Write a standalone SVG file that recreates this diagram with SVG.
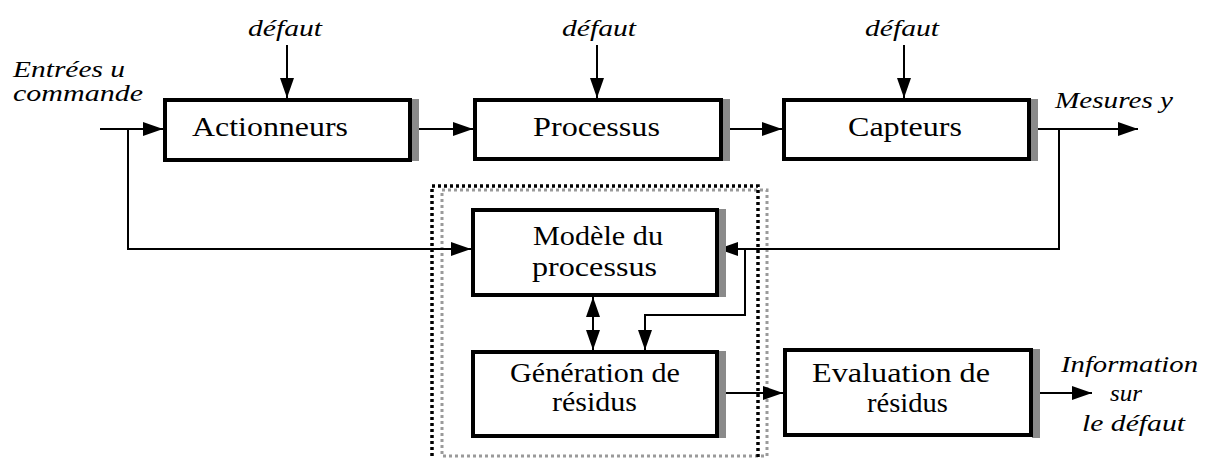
<svg xmlns="http://www.w3.org/2000/svg" width="1209" height="458" viewBox="0 0 1209 458">
  <style>
    .box { fill: #fff; stroke: #000; stroke-width: 4; }
    .shadow { fill: #8a8a8a; }
    .lbl { font-family: "Liberation Serif", "Times New Roman", serif; font-size: 27px; fill: #000; text-anchor: start; }
    .it { font-family: "Liberation Serif", "Times New Roman", serif; font-style: italic; font-size: 23px; fill: #000; }
    .wire { fill: none; stroke: #000; stroke-width: 2; }
    .frame-a { fill: none; stroke: #000; stroke-width: 3.5; stroke-dasharray: 3 3; }
    .frame-b { fill: none; stroke: #9a9a9a; stroke-width: 3; stroke-dasharray: 3 3; }
  </style>
  <defs>
    <marker id="tip" markerUnits="userSpaceOnUse" markerWidth="22" markerHeight="16" refX="20" refY="7" orient="auto-start-reverse">
      <path d="M0,0 L20,7 L0,14 z" fill="#000"/>
    </marker>
  </defs>

  <rect width="1209" height="458" fill="#fff"/>

  <!-- residual-generation frame (double dotted) -->
  <g id="frame">
    <rect class="frame-b" x="442" y="190" width="325" height="266"/>
    <rect class="frame-a" x="432" y="186" width="326" height="280"/>
  </g>

  <!-- signal flow -->
  <g id="connectors">
    <path class="wire" d="M287,45 V98" marker-end="url(#tip)"/>
    <path class="wire" d="M597,45 V98" marker-end="url(#tip)"/>
    <path class="wire" d="M904,45 V98" marker-end="url(#tip)"/>
    <path class="wire" d="M100,129 H163" marker-end="url(#tip)"/>
    <path class="wire" d="M128,129 V249 H471" marker-end="url(#tip)"/>
    <path class="wire" d="M419,129 H473" marker-end="url(#tip)"/>
    <path class="wire" d="M730,129 H782" marker-end="url(#tip)"/>
    <path class="wire" d="M1038,129 H1138" marker-end="url(#tip)"/>
    <path class="wire" d="M1059,129 V249 H718" marker-end="url(#tip)"/>
    <path class="wire" d="M745,249 V315 H645 V350" marker-end="url(#tip)"/>
    <path class="wire" d="M593,297 V350" marker-start="url(#tip)" marker-end="url(#tip)"/>
    <path class="wire" d="M725,393 H783" marker-end="url(#tip)"/>
    <path class="wire" d="M1040,393 H1092" marker-end="url(#tip)"/>
  </g>

  <g id="actionneurs">
    <rect class="shadow" x="411" y="99" width="8" height="62"/>
    <rect class="box" x="165" y="100" width="245" height="60"/>
    <text class="lbl" x="192" y="136" textLength="156" lengthAdjust="spacingAndGlyphs">Actionneurs</text>
  </g>

  <g id="processus">
    <rect class="shadow" x="722" y="99" width="8" height="62"/>
    <rect class="box" x="475" y="100" width="246" height="59"/>
    <text class="lbl" x="533" y="136" textLength="127" lengthAdjust="spacingAndGlyphs">Processus</text>
  </g>

  <g id="capteurs">
    <rect class="shadow" x="1030" y="99" width="8" height="62"/>
    <rect class="box" x="784" y="100" width="245" height="59"/>
    <text class="lbl" x="848" y="136" textLength="114" lengthAdjust="spacingAndGlyphs">Capteurs</text>
  </g>

  <g id="modele">
    <rect class="shadow" x="718" y="209" width="8" height="88"/>
    <rect class="box" x="473" y="210" width="244" height="85"/>
    <text class="lbl" x="533" y="245" font-size="25" textLength="130" lengthAdjust="spacingAndGlyphs">Modèle du</text>
    <text class="lbl" x="532" y="276" font-size="25" textLength="125" lengthAdjust="spacingAndGlyphs">processus</text>
  </g>

  <g id="generation">
    <rect class="shadow" x="718" y="351" width="8" height="87"/>
    <rect class="box" x="473" y="352" width="244" height="84"/>
    <text class="lbl" x="510" y="382" font-size="22" textLength="170" lengthAdjust="spacingAndGlyphs">Génération de</text>
    <text class="lbl" x="552" y="411" font-size="22" textLength="85" lengthAdjust="spacingAndGlyphs">résidus</text>
  </g>

  <g id="evaluation">
    <rect class="shadow" x="1032" y="349" width="8" height="89"/>
    <rect class="box" x="785" y="350" width="246" height="85"/>
    <text class="lbl" x="812" y="382" font-size="22" textLength="178" lengthAdjust="spacingAndGlyphs">Evaluation de</text>
    <text class="lbl" x="867" y="412" font-size="22" textLength="81" lengthAdjust="spacingAndGlyphs">résidus</text>
  </g>

  <!-- external inputs and outputs -->
  <g id="labels">
    <text class="it" x="248" y="36" textLength="74" lengthAdjust="spacingAndGlyphs">défaut</text>
    <text class="it" x="562" y="36" textLength="74" lengthAdjust="spacingAndGlyphs">défaut</text>
    <text class="it" x="865" y="36" textLength="74" lengthAdjust="spacingAndGlyphs">défaut</text>
    <text class="it" x="13" y="77" textLength="112" lengthAdjust="spacingAndGlyphs">Entrées u</text>
    <text class="it" x="13" y="101" textLength="130" lengthAdjust="spacingAndGlyphs">commande</text>
    <text class="it" x="1055" y="108" textLength="118" lengthAdjust="spacingAndGlyphs">Mesures y</text>
    <text class="it" x="1061" y="372" textLength="137" lengthAdjust="spacingAndGlyphs">Information</text>
    <text class="it" x="1110" y="401" textLength="32" lengthAdjust="spacingAndGlyphs">sur</text>
    <text class="it" x="1082" y="431" textLength="103" lengthAdjust="spacingAndGlyphs">le défaut</text>
  </g>
</svg>
